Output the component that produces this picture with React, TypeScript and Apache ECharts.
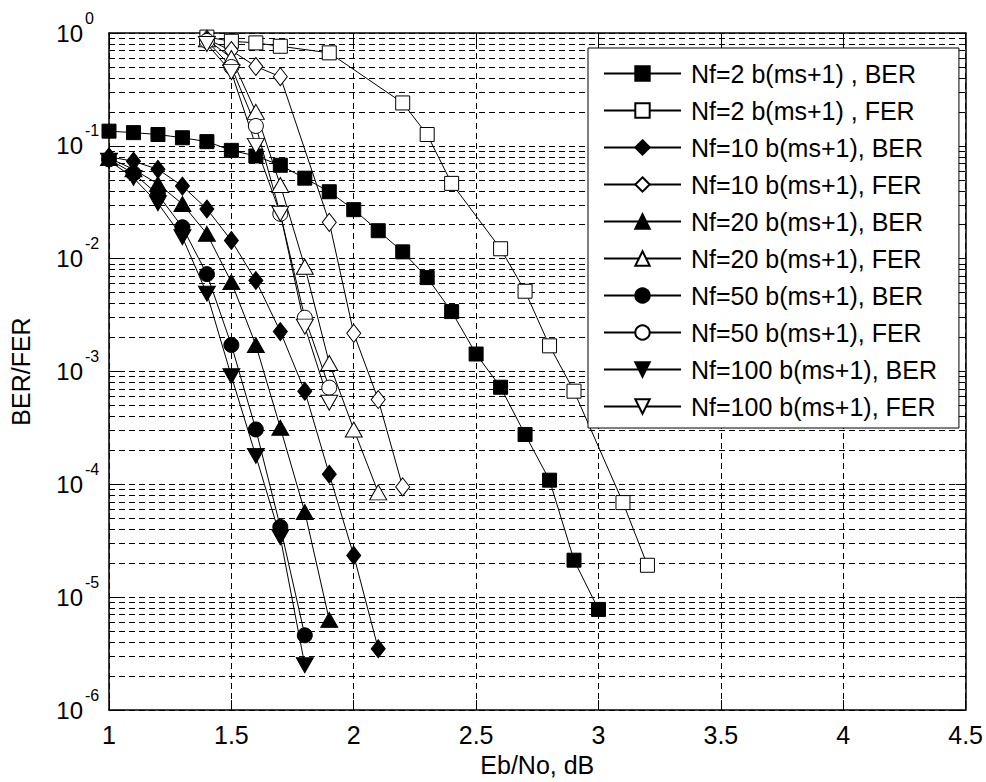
import React, { useEffect, useRef } from "react";
import * as echarts from "echarts";

// ---------- data ----------
const X_NF2_BER = [1.0, 1.1, 1.2, 1.3, 1.4, 1.5, 1.6, 1.7, 1.8, 1.9, 2.0, 2.1, 2.2, 2.3, 2.4, 2.5, 2.6, 2.7, 2.8, 2.9, 3.0];
const Y_NF2_BER = [0.135, 0.131, 0.126, 0.118, 0.109, 0.0912, 0.0813, 0.0673, 0.0517, 0.0392, 0.0272, 0.0177, 0.0115, 0.0068, 0.0034, 0.00143, 0.000726, 0.000277, 0.000109, 2.13e-5, 7.8e-6];

const X_NF2_FER = [1.4, 1.5, 1.6, 1.7, 1.9, 2.2, 2.3, 2.4, 2.6, 2.7, 2.8, 2.9, 3.1, 3.2];
const Y_NF2_FER = [0.92, 0.845, 0.817, 0.763, 0.667, 0.24, 0.126, 0.0465, 0.01225, 0.00515, 0.00169, 0.00067, 6.9e-5, 1.92e-5];

const X_NF10_BER = [1.0, 1.1, 1.2, 1.3, 1.4, 1.5, 1.6, 1.7, 1.8, 1.9, 2.0, 2.1];
const Y_NF10_BER = [0.08, 0.073, 0.062, 0.044, 0.0276, 0.0145, 0.0064, 0.00226, 0.00067, 0.000123, 2.35e-5, 3.5e-6];

const X_NF10_FER = [1.4, 1.5, 1.6, 1.7, 1.9, 2.0, 2.1, 2.2];
const Y_NF10_FER = [0.88, 0.7, 0.505, 0.41, 0.021, 0.00218, 0.000565, 9.5e-5];

const X_NF20_BER = [1.0, 1.1, 1.2, 1.3, 1.4, 1.5, 1.6, 1.7, 1.8, 1.9];
const Y_NF20_BER = [0.078, 0.062, 0.046, 0.0305, 0.0166, 0.0062, 0.00172, 0.000318, 5.7e-5, 6.3e-6];

const X_NF20_FER = [1.4, 1.5, 1.6, 1.7, 1.8, 1.9, 2.0, 2.1];
const Y_NF20_FER = [0.88, 0.6, 0.2, 0.045, 0.0085, 0.00119, 0.000307, 8.5e-5];

const X_NF50_BER = [1.0, 1.1, 1.2, 1.3, 1.4, 1.5, 1.6, 1.7, 1.8];
const Y_NF50_BER = [0.076, 0.057, 0.037, 0.019, 0.0073, 0.00172, 0.000307, 4.2e-5, 4.6e-6];

const X_NF50_FER = [1.4, 1.5, 1.6, 1.7, 1.8, 1.9];
const Y_NF50_FER = [0.85, 0.5, 0.15, 0.025, 0.003, 0.00072];

const X_NF100_BER = [1.0, 1.1, 1.2, 1.3, 1.4, 1.5, 1.6, 1.7, 1.8];
const Y_NF100_BER = [0.074, 0.052, 0.031, 0.0155, 0.0049, 0.00091, 0.000179, 3.4e-5, 2.5e-6];

const X_NF100_FER = [1.4, 1.5, 1.6, 1.7, 1.8, 1.9];
const Y_NF100_FER = [0.8, 0.45, 0.1, 0.025, 0.0025, 0.00053];

const SERIES_NAMES = [
  "Nf=2 b(ms+1) , BER",
  "Nf=2 b(ms+1) , FER",
  "Nf=10 b(ms+1), BER",
  "Nf=10 b(ms+1), FER",
  "Nf=20 b(ms+1), BER",
  "Nf=20 b(ms+1), FER",
  "Nf=50 b(ms+1), BER",
  "Nf=50 b(ms+1), FER",
  "Nf=100 b(ms+1), BER",
  "Nf=100 b(ms+1), FER",
];

const X_TICKS_MIN = 1;
const X_TICKS_MAX = 4.5;
const X_TICK_STEP = 0.5;
const Y_MIN = 1e-6;
const Y_MAX = 1;
const DECADES = [-6, -5, -4, -3, -2, -1];
const MINOR_MANTISSAS = [2, 3, 4, 5, 6, 7, 8, 9];

const FONT = 'Arial, "Liberation Sans", Helvetica, sans-serif';

function pairs(xs: number[], ys: number[]) {
  return xs.map((x, i) => [x, ys[i]]);
}

export default function App() {
  const ref = useRef<HTMLDivElement>(null);

  useEffect(() => {
    document.body.style.margin = "0";
    if (!ref.current) return;
    const chart = echarts.init(ref.current, null, { renderer: "svg" });

    const dash = [6, 4];
    const gridLine = { show: true, lineStyle: { color: "#000", width: 1, type: dash } };

    const minorValues: number[] = [];
    DECADES.forEach((d) => MINOR_MANTISSAS.forEach((m) => minorValues.push(m * Math.pow(10, d))));

    const mk = (
      name: string,
      xs: number[],
      ys: number[],
      symbol: string,
      size: number | number[],
      filled: boolean,
      rotate = 0
    ) => ({
      name,
      type: "line",
      data: pairs(xs, ys),
      xAxisIndex: 0,
      yAxisIndex: 0,
      symbol,
      symbolSize: size,
      symbolRotate: rotate,
      showAllSymbol: true,
      lineStyle: { color: "#000", width: 1 },
      itemStyle: { color: filled ? "#000" : "#fff", borderColor: "#000", borderWidth: 1 },
      z: 3,
    });

    const option: any = {
      animation: false,
      backgroundColor: "#fff",
      textStyle: { fontFamily: FONT },
      grid: { left: 104, right: 18, top: 33, bottom: 68, containLabel: false },
      xAxis: [
        {
          type: "value",
          min: X_TICKS_MIN,
          max: X_TICKS_MAX,
          interval: X_TICK_STEP,
          position: "bottom",
          name: "Eb/No, dB",
          nameLocation: "middle",
          nameGap: 40,
          nameTextStyle: { color: "#000", fontSize: 25, fontFamily: FONT },
          axisLine: { show: true, lineStyle: { color: "#000", width: 1.5 } },
          axisTick: { show: true, inside: true, length: 10, lineStyle: { color: "#000" } },
          axisLabel: { color: "#000", fontSize: 25, fontFamily: FONT, margin: 12 },
          splitLine: gridLine,
        },
        {
          type: "value",
          min: X_TICKS_MIN,
          max: X_TICKS_MAX,
          interval: X_TICK_STEP,
          position: "top",
          axisLine: { show: true, lineStyle: { color: "#000", width: 1.5 } },
          axisTick: { show: true, inside: true, length: 10, lineStyle: { color: "#000" } },
          axisLabel: { show: false },
          splitLine: { show: false },
        },
      ],
      yAxis: [
        {
          type: "log",
          logBase: 10,
          min: Y_MIN,
          max: Y_MAX,
          position: "left",
          name: "BER/FER",
          nameLocation: "middle",
          nameGap: 76,
          nameRotate: 90,
          nameTextStyle: { color: "#000", fontSize: 25, fontFamily: FONT },
          axisLine: { show: true, lineStyle: { color: "#000", width: 1.5 } },
          axisTick: { show: true, inside: true, length: 10, lineStyle: { color: "#000" } },
          axisLabel: {
            color: "#000",
            fontSize: 24,
            fontFamily: FONT,
            margin: 26,
            formatter: () => "10",
          },
          splitLine: gridLine,
        },
        {
          type: "log",
          logBase: 10,
          min: Y_MIN,
          max: Y_MAX,
          position: "right",
          axisLine: { show: true, lineStyle: { color: "#000", width: 1.5 } },
          axisTick: { show: true, inside: true, length: 10, lineStyle: { color: "#000" } },
          axisLabel: { show: false },
          splitLine: { show: false },
        },
        {
          type: "log",
          logBase: 10,
          min: Y_MIN,
          max: Y_MAX,
          position: "left",
          axisLine: { show: false },
          axisTick: { show: false },
          splitLine: { show: false },
          axisLabel: {
            color: "#000",
            fontSize: 16,
            fontFamily: FONT,
            margin: 24,
            align: "left",
            verticalAlign: "bottom",
            lineHeight: 30,
            formatter: (v: number) => String(Math.round(Math.log10(v))),
          },
        },
      ],
      legend: {
        show: true,
        orient: "vertical",
        left: 588,
        top: 48,
        data: SERIES_NAMES,
        itemWidth: 77,
        itemHeight: 18,
        itemGap: 12,
        padding: [13, 22, 9, 15],
        backgroundColor: "#fff",
        borderColor: "#000",
        borderWidth: 1,
        borderRadius: 0,
        textStyle: { color: "#000", fontSize: 25, fontFamily: FONT, lineHeight: 25, padding: [0, 0, 0, 5] },
        z: 10,
      },
      series: [
        {
          name: "__minor_grid",
          type: "lines",
          coordinateSystem: "cartesian2d",
          xAxisIndex: 0,
          yAxisIndex: 0,
          silent: true,
          z: 1,
          polyline: false,
          lineStyle: { color: "#000", width: 1, type: dash, opacity: 1, curveness: 0 },
          data: minorValues.map((v) => ({ coords: [[X_TICKS_MIN, v], [X_TICKS_MAX, v]] })),
        },
        mk(SERIES_NAMES[0], X_NF2_BER, Y_NF2_BER, "rect", 14, true),
        mk(SERIES_NAMES[1], X_NF2_FER, Y_NF2_FER, "rect", 14, false),
        mk(SERIES_NAMES[2], X_NF10_BER, Y_NF10_BER, "diamond", [14, 18], true),
        mk(SERIES_NAMES[3], X_NF10_FER, Y_NF10_FER, "diamond", [14, 18], false),
        mk(SERIES_NAMES[4], X_NF20_BER, Y_NF20_BER, "triangle", [17, 15], true),
        mk(SERIES_NAMES[5], X_NF20_FER, Y_NF20_FER, "triangle", [17, 15], false),
        mk(SERIES_NAMES[6], X_NF50_BER, Y_NF50_BER, "circle", 15, true),
        mk(SERIES_NAMES[7], X_NF50_FER, Y_NF50_FER, "circle", 15, false),
        mk(SERIES_NAMES[8], X_NF100_BER, Y_NF100_BER, "triangle", [17, 15], true, 180),
        mk(SERIES_NAMES[9], X_NF100_FER, Y_NF100_FER, "triangle", [17, 15], false, 180),
      ],
    };

    chart.setOption(option);
    return () => chart.dispose();
  }, []);

  return <div ref={ref} style={{ width: 986, height: 782 }} />;
}
